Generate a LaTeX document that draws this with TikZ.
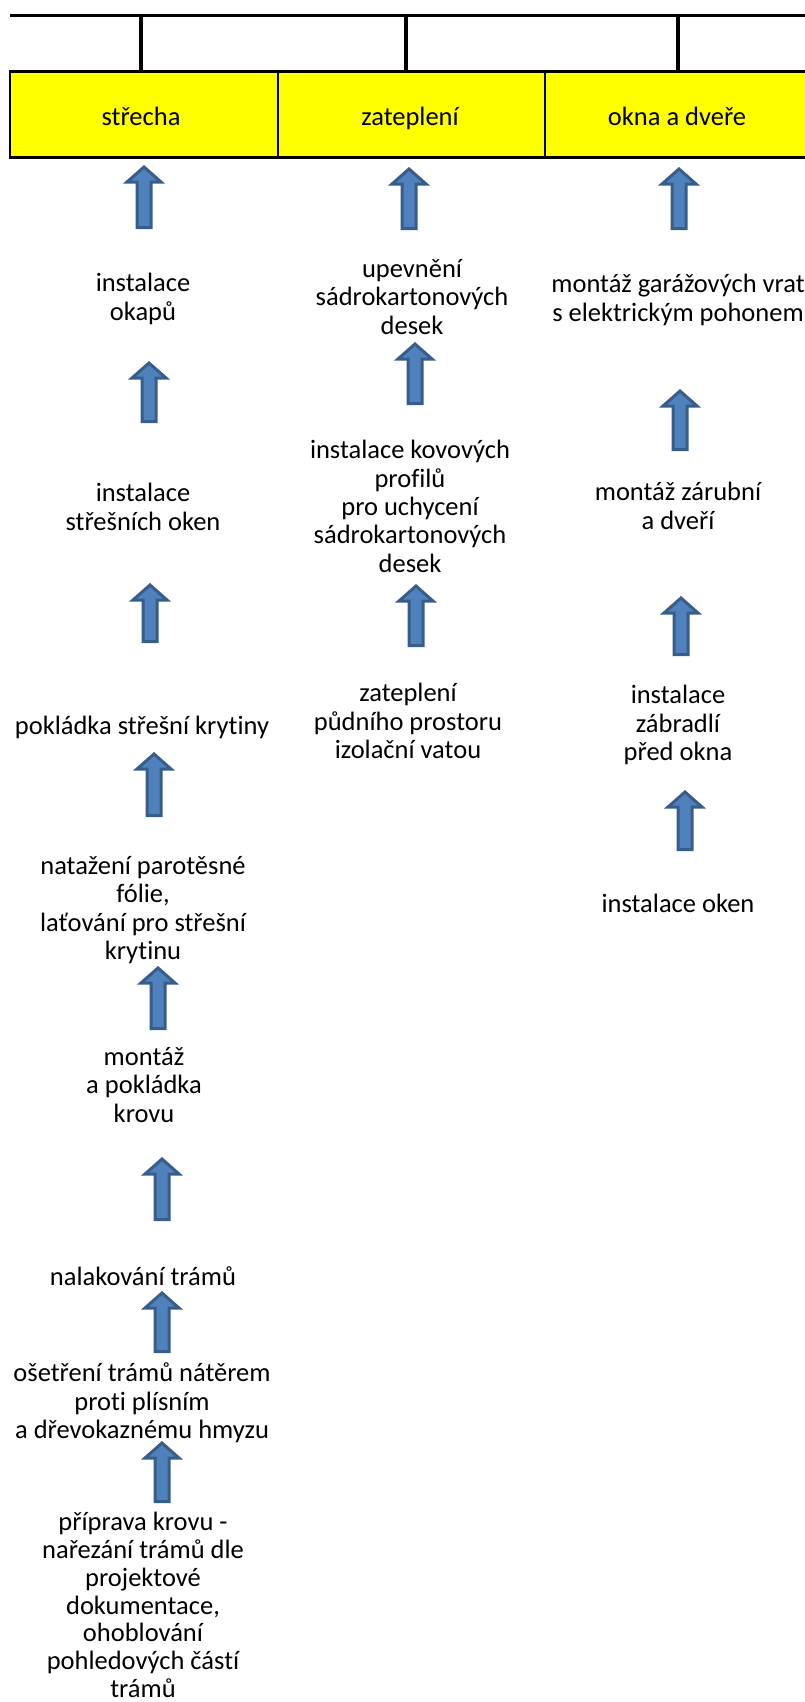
\documentclass[tikz,border=0pt]{standalone}
\usepackage{fontspec}
\setmainfont[Ligatures={NoCommon}]{Carlito}
\definecolor{boxyellow}{HTML}{FFFF00}
\definecolor{arrowfill}{HTML}{4F81BD}
\definecolor{arrowline}{HTML}{385D8A}
\lineskiplimit=-100pt
% upward block arrow: name, centre x, tip y, bottom y
\newcommand\blockarrow[4]{%
  \coordinate (#1) at (#2,#3);
  \filldraw[barrow] ({#2-7},{#4-1.5}) -- ({#2-7},{#3+17}) -- ({#2-17},{#3+17})
    -- (#2,{#3+2}) -- ({#2+17},{#3+17}) -- ({#2+7},{#3+17}) -- ({#2+7},{#4-1.5}) -- cycle;}
\begin{document}
\begin{tikzpicture}[x=1pt,y=-1pt,
  lbl/.style={anchor=north, inner sep=0pt, align=center,
    font=\fontsize{26.5}{28.4}\selectfont, execute at begin node={\rule{0pt}{24pt}}},
  tight/.style={font=\fontsize{26.5}{27.8}\selectfont},
  barrow/.style={fill=arrowfill, draw=arrowline, line width=3pt, line join=miter},
  heavy/.style={line width=3pt},
  tick/.style={line width=3.5pt}]
\useasboundingbox (0,0) rectangle (805,1702);

% header bar with the three categories
\fill[boxyellow] (10,72) rectangle (806,157);
\draw[line width=2pt] (10,72) -- (10,157);
\draw[line width=1.5pt] (278,72) -- (278,157) (545,72) -- (545,157);
\draw[heavy] (9,72) -- (806,72) (9,157) -- (806,157);
\draw[heavy] (10,16) -- (806,16);
\coordinate (t1) at (141,16); \coordinate (t2) at (406,16); \coordinate (t3) at (678,16);
\coordinate (b1) at (141,72); \coordinate (b2) at (406,72); \coordinate (b3) at (678,72);
\draw[tick] (t1) -- (b1) (t2) -- (b2) (t3) -- (b3);

\node[lbl] (h1) at (141,101) {střecha};
\node[lbl] (h2) at (410,101) {zateplení};
\node[lbl] (h3) at (677,101) {okna a dveře};

% column 1: roof
\blockarrow{a11}{144}{165}{229}
\node[lbl] (c11) at (143,273) {instalace\\okapů};
\blockarrow{a12}{149}{361}{423}
\node[lbl] (c12) at (143,483) {instalace\\střešních oken};
\blockarrow{a13}{150}{583}{643}
\node[lbl] (c13) at (142,710) {pokládka střešní krytiny};
\blockarrow{a14}{154}{752}{817}
\node[lbl] (c14) at (143,856) {natažení parotěsné\\fólie,\\laťování pro střešní\\krytinu};
\blockarrow{a15}{158}{966}{1030}
\node[lbl] (c15) at (144,1047) {montáž\\a pokládka\\krovu};
\blockarrow{a16}{162}{1157}{1221}
\node[lbl] (c16) at (143,1261) {nalakování trámů};
\blockarrow{a17}{162}{1291}{1353}
\node[lbl] (c17) at (142,1363) {ošetření trámů nátěrem\\proti plísním\\a dřevokaznému hmyzu};
\blockarrow{a18}{162}{1441}{1503}
\node[lbl,tight] (c18) at (143,1512) {příprava krovu -\\nařezání trámů dle\\projektové\\dokumentace,\\ohoblování\\pohledových částí\\trámů};

% column 2: insulation
\blockarrow{a21}{409}{167}{230}
\node[lbl] (c21) at (412,259) {upevnění\\sádrokartonových\\desek};
\blockarrow{a22}{415}{342}{405}
\node[lbl] (c22) at (410,440) {instalace kovových\\profilů\\pro uchycení\\sádrokartonových\\desek};
\blockarrow{a23}{416}{584}{647}
\node[lbl] (c23) at (408,683) {zateplení\\půdního prostoru\\izolační vatou};

% column 3: windows and doors
\blockarrow{a31}{679}{167}{230}
\node[lbl] (c31) at (678,274) {montáž garážových vrat\\s elektrickým pohonem};
\blockarrow{a32}{680}{389}{451}
\node[lbl] (c32) at (678,482) {montáž zárubní\\a dveří};
\blockarrow{a33}{681}{596}{656}
\node[lbl] (c33) at (678,685) {instalace\\zábradlí\\před okna};
\blockarrow{a34}{685}{790}{851}
\node[lbl] (c34) at (678,888) {instalace oken};
\end{tikzpicture}
\end{document}
